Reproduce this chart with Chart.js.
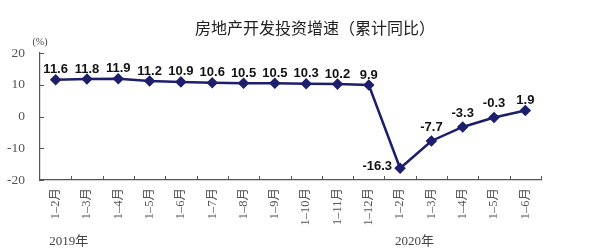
<!DOCTYPE html>
<html>
<head>
<meta charset="utf-8">
<script src="https://cdn.jsdelivr.net/npm/chart.js@4"></script>
<style>
  html, body { margin: 0; padding: 0; background: #fff; }
  .chart { width: 589px; height: 252px; position: relative; }
</style>
</head>
<body>
<div class="chart"><canvas id="myChart"></canvas></div>
<script>
const months = ["1–2月", "1–3月", "1–4月", "1–5月", "1–6月", "1–7月", "1–8月", "1–9月",
  "1–10月", "1–11月", "1–12月", "1–2月", "1–3月", "1–4月", "1–5月", "1–6月"];
const growth = [11.6, 11.8, 11.9, 11.2, 10.9, 10.6, 10.5, 10.5, 10.3, 10.2, 9.9, -16.3, -7.7, -3.3, -0.3, 1.9];
const yTicks = [-20, -10, 0, 10, 20];
const years = ["2019年", "2020年"];
const titleText = "房地产开发投资增速（累计同比）";
const unitText = "(%)";

const lineColor = "#1d1f6c";
const axisColor = "#555";
const serif = "'Liberation Serif', 'Noto Sans CJK SC', serif";

// labels, tick marks, title, year captions
const extras = {
  id: "extras",
  beforeDatasetsDraw(chart) {
    const ctx = chart.ctx;
    const x = chart.scales.x;
    const y = chart.scales.y;
    ctx.save();
    ctx.strokeStyle = axisColor;
    ctx.lineWidth = 1;
    ctx.beginPath();
    yTicks.forEach((v) => {
      const py = Math.round(y.getPixelForValue(v)) + 0.5;
      ctx.moveTo(x.left, py);
      ctx.lineTo(x.left + 4, py);
    });
    const step = (x.right - x.left) / months.length;
    for (let i = 1; i <= months.length; i++) {
      const px = Math.round(x.left + i * step) + 0.5;
      ctx.moveTo(px, y.bottom);
      ctx.lineTo(px, y.bottom - 4);
    }
    ctx.stroke();
    ctx.restore();
  },
  afterDatasetsDraw(chart) {
    const ctx = chart.ctx;
    const meta = chart.getDatasetMeta(0);
    const x = chart.scales.x;
    ctx.save();
    ctx.fillStyle = "#111";
    ctx.font = "bold 13px 'Liberation Sans', Arial, sans-serif";
    ctx.textBaseline = "middle";
    meta.data.forEach((pt, i) => {
      const v = growth[i];
      let tx = pt.x, ty = pt.y - 10, align = "center";
      if (v === -16.3) { tx = pt.x - 8; ty = pt.y - 2; align = "right"; }
      else if (v < 0) { ty = pt.y - 14; }
      ctx.textAlign = align;
      ctx.fillText(v.toFixed(1), tx, ty);
    });

    ctx.fillStyle = "#222";
    ctx.textAlign = "center";
    ctx.font = "16px 'Noto Sans CJK SC', sans-serif";
    ctx.fillText(titleText, 315, 28);

    ctx.fillStyle = "#444";
    ctx.font = "10px " + serif;
    ctx.fillText(unitText, 40, 42);

    ctx.font = "13px " + serif;
    ctx.fillText(years[0], x.getPixelForValue(0) + 13, 242);
    ctx.fillText(years[1], x.getPixelForValue(12) - 17, 242);
    ctx.restore();
  }
};

const ctx = document.getElementById("myChart").getContext("2d");
const myChart = new Chart(ctx, {
  type: "line",
  data: {
    labels: months,
    datasets: [{
      data: growth,
      borderColor: lineColor,
      backgroundColor: lineColor,
      borderWidth: 2.5,
      pointStyle: "rectRot",
      pointRadius: 4,
      pointBackgroundColor: lineColor,
      pointBorderColor: lineColor,
      tension: 0
    }]
  },
  options: {
    responsive: true,
    maintainAspectRatio: false,
    animation: false,
    layout: { padding: { top: 53, right: 48, left: 0, bottom: 0 } },
    plugins: { legend: { display: false }, tooltip: { enabled: false } },
    scales: {
      x: {
        offset: true,
        afterFit: (s) => { s.height = 72; },
        grid: { display: false, drawTicks: false },
        border: { display: true, color: axisColor, width: 1.2 },
        ticks: {
          autoSkip: false,
          minRotation: 90,
          maxRotation: 90,
          padding: 8,
          color: "#555",
          font: { size: 12.5, family: serif }
        }
      },
      y: {
        min: -20,
        max: 20,
        afterFit: (s) => { s.width = 40; },
        grid: { display: false, drawTicks: false },
        border: { display: true, color: axisColor, width: 1.2 },
        ticks: {
          stepSize: 10,
          padding: 15,
          color: "#555",
          font: { size: 13.5, family: serif }
        }
      }
    }
  },
  plugins: [extras]
});
</script>
</body>
</html>
